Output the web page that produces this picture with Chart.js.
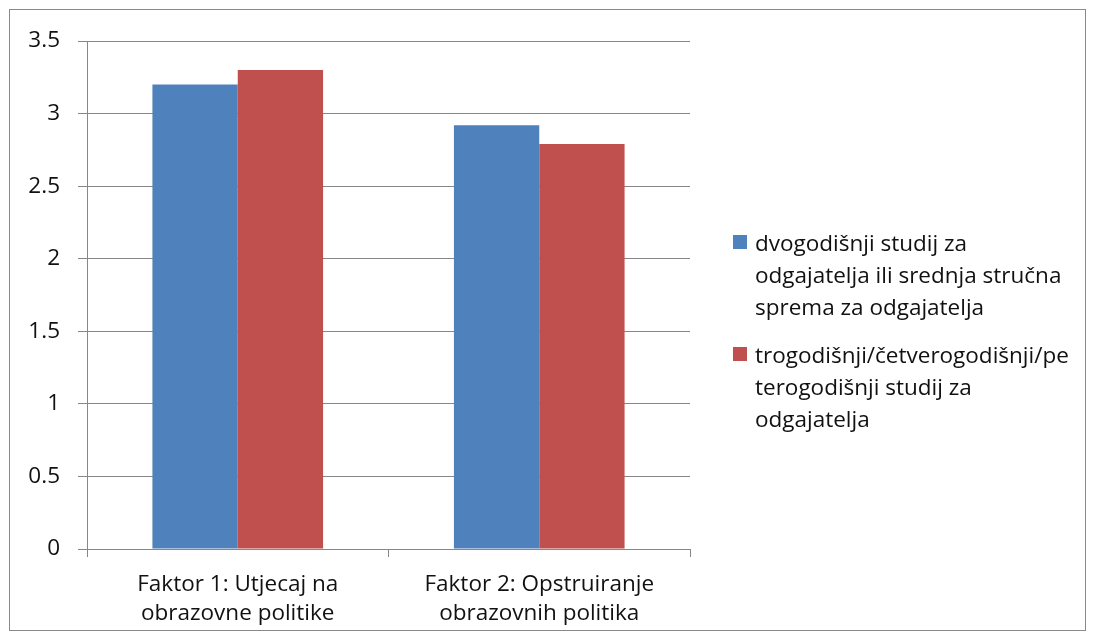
<!DOCTYPE html>
<html>
<head>
<meta charset="utf-8">
<script src="https://cdn.jsdelivr.net/npm/chart.js@4/dist/chart.umd.min.js"></script>
<style>
  body { margin: 0; background: #fff; }
  #wrap { position: relative; width: 1096px; height: 641px; }
  #frame { position: absolute; left: 9px; top: 9px; width: 1077px; height: 622px; border: 1px solid #8a8a8a; box-sizing: border-box; }
  canvas { position: absolute; left: 0; top: 0; }
  #legend { position: absolute; left: 733px; top: 227px; font-family: "Open Sans", "Noto Sans", sans-serif; font-size: 22.5px; color: #111; }
  .item { display: flex; align-items: flex-start; margin-bottom: 16px; }
  .box { width: 14px; height: 14px; margin: 8px 8px 0 0; flex: none; }
  .txt { line-height: 32px; white-space: nowrap; }
</style>
</head>
<body>
<div id="wrap">
  <div id="frame"></div>
  <canvas id="chart" width="1096" height="641"></canvas>
  <div id="legend"></div>
</div>
<script>
// categories (wrapped the way the reference shows them)
const categories = [
  ['Faktor 1: Utjecaj na', 'obrazovne politike'],
  ['Faktor 2: Opstruiranje', 'obrazovnih politika']
];

// series names, split into the legend's lines
const seriesNames = [
  ['dvogodišnji studij za', 'odgajatelja ili srednja stručna', 'sprema za odgajatelja'],
  ['trogodišnji/četverogodišnji/pe', 'terogodišnji studij za', 'odgajatelja']
];

const dvogodisnji = [3.2, 2.92];
const trogodisnji = [3.3, 2.79];
const seriesColors = ['#4F81BD', '#C0504D'];

const yTicks = { min: 0, max: 3.5, step: 0.5 };

const gridGray = '#878787';
const font = { family: '"Open Sans", "Noto Sans", sans-serif', size: 22.5 };

Chart.defaults.font = font;
Chart.defaults.color = '#111';

const chart = new Chart(document.getElementById('chart').getContext('2d'), {
  type: 'bar',
  data: {
    labels: categories,
    datasets: [
      { label: seriesNames[0].join(' '), data: dvogodisnji, backgroundColor: seriesColors[0] },
      { label: seriesNames[1].join(''), data: trogodisnji, backgroundColor: seriesColors[1] }
    ]
  },
  options: {
    responsive: false,
    animation: false,
    layout: { padding: { top: 41, right: 406, bottom: 10, left: 10 } },
    datasets: { bar: { categoryPercentage: 0.566, barPercentage: 1 } },
    scales: {
      x: {
        grid: { offset: true, drawOnChartArea: false, drawTicks: true, tickLength: 8, color: gridGray },
        border: { color: gridGray },
        ticks: { padding: 14, maxRotation: 0, font: { ...font, lineHeight: 1.25 } },
        afterFit: s => { s.height = 82; }
      },
      y: {
        min: yTicks.min,
        max: yTicks.max,
        grid: { color: gridGray, tickLength: 9 },
        border: { color: gridGray },
        ticks: { stepSize: yTicks.step, padding: 18, callback: v => String(v) },
        afterFit: s => { s.width = 77; }
      }
    },
    plugins: {
      legend: { display: false },
      tooltip: { enabled: false }
    }
  }
});

// legend built from the chart's own datasets
const legend = document.getElementById('legend');
chart.data.datasets.forEach((ds, i) => {
  const item = document.createElement('div');
  item.className = 'item';
  item.innerHTML = `<div class="box" style="background:${ds.backgroundColor}"></div>
    <div class="txt">${seriesNames[i].join('<br>')}</div>`;
  legend.appendChild(item);
});
</script>
</body>
</html>
